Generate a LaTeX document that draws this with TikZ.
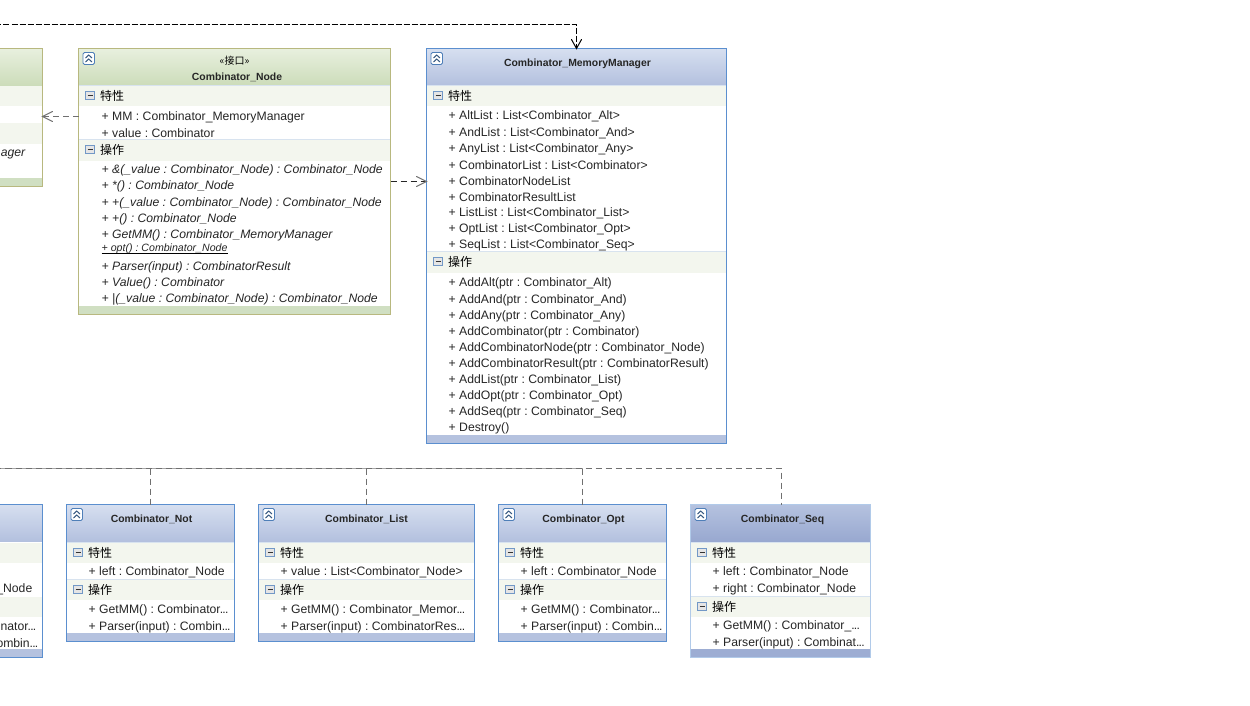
\documentclass[tikz,border=0pt]{standalone}
\usepackage{fontspec}
\usetikzlibrary{calc}
\setmainfont{Liberation Sans}
\newfontfamily\cjkf{Noto Sans CJK SC}
\definecolor{gborder}{HTML}{B8B87F}
\definecolor{gtop}{HTML}{E8F0DF}
\definecolor{gbot}{HTML}{CCDCB9}
\definecolor{gfoot}{HTML}{D0DFC2}
\definecolor{bborder}{HTML}{5B8FCF}
\definecolor{btop}{HTML}{D6DFF0}
\definecolor{bbot}{HTML}{B3C0DE}
\definecolor{bfoot}{HTML}{B5C2DF}
\definecolor{sborder}{HTML}{8FB3DF}
\definecolor{stop}{HTML}{B5C2DF}
\definecolor{sbot}{HTML}{98A8D0}
\definecolor{sfoot}{HTML}{9DADD3}
\definecolor{band}{HTML}{F3F6EE}
\definecolor{iconb}{HTML}{4F7FB8}
\definecolor{dashgray}{HTML}{707070}
\newcount\rowno
\newcommand{\dd}{.\kern-.8pt.\kern-.8pt.}
\tikzset{
  boxbody/.style={rectangle,draw,line width=1pt,fill=white,inner sep=0pt,outer sep=0pt,anchor=north west},
  rowtext/.style={anchor=west,inner sep=0pt,font=\frenchspacing\fontsize{12.2}{14}\selectfont,text=black!85},
  bandtext/.style={anchor=west,inner sep=0pt,font=\cjkf\fontsize{12}{14}\selectfont},
  titletext/.style={inner sep=0pt,font=\bfseries\fontsize{10.4}{12}\selectfont,text=black!85},
  dep/.style={dash pattern=on 6pt off 4pt,line width=1pt,color=dashgray},
  depdark/.style={dash pattern=on 6pt off 2pt,line width=1pt,color=black},
  openarr/.style={line width=1pt,line cap=round},
}
% #1 name, #2 x, #3 y, #4 x2, #5 y2, #6 border, #7 head top, #8 head bot, #9 foot
\newcommand{\umlbox}[9]{%
  \node[boxbody,draw=#6,minimum width=#4pt-#2pt,minimum height=#5pt-#3pt] (#1) at (#2,#3) {};
  \shade[top color=#7,bottom color=#8] (#2,#3) rectangle (#4,#3+37);
  \fill[#9] (#2,#5-9) rectangle (#4,#5);
  \draw[#6,line width=1pt] (#2,#3) rectangle (#4,#5);
  \draw[iconb,fill=white,rounded corners=1.5pt,line width=.8pt] (#2+4.5,#3+4) rectangle (#2+16,#3+16);
  \draw[iconb!70!black,line width=1pt] (#2+7,#3+9.5) -- (#2+10.2,#3+6.5) -- (#2+13.5,#3+9.5) (#2+7,#3+13.5) -- (#2+10.2,#3+10.5) -- (#2+13.5,#3+13.5);
}
% #1 x1, #2 x2, #3 y top, #4 y bottom, #5 label
\newcommand{\sect}[5]{%
  \fill[band] (#1+.5,#3) rectangle (#2-.5,#4);
  \draw[iconb!22,line width=.6pt] (#1+.5,#3) -- (#2-.5,#3);
  \draw[iconb!80,fill=black!10,line width=.7pt] (#1+7,#3+5.5) rectangle (#1+16,#3+14);
  \draw[black!80,line width=1pt] (#1+9,#3+9.8) -- (#1+14,#3+9.8);
  \global\advance\rowno 1
  \node[bandtext] (row\the\rowno) at (#1+21.5,#3+10.5) {#5};
}
\newcommand{\row}[3]{%
  \global\advance\rowno 1
  \node[rowtext] (row\the\rowno) at (#1,#2+.7) {#3};
}
\begin{document}
\begin{tikzpicture}[x=1pt,y=-1pt]
\useasboundingbox (-.5,-.5) rectangle (1249.5,704.5);
\clip (-.5,-.5) rectangle (1249.5,704.5);
\fill[white] (-.5,-.5) rectangle (1249.5,704.5);

% cropped boxes on the left
\umlbox{leftTop}{-100}{48}{42}{186}{gborder}{gtop}{gbot}{gfoot}
\fill[band] (-99,85) rectangle (41.5,105);
\fill[band] (-99,122) rectangle (41.5,143);
\global\advance\rowno 1
\node[rowtext,anchor=east,font=\frenchspacing\itshape\fontsize{12.2}{14}\selectfont] (row\the\rowno) at (25,153.7) {ager};

\umlbox{leftBot}{-100}{504}{42}{657}{bborder}{btop}{bbot}{bfoot}
\fill[band] (-99,542) rectangle (41.5,562);
\fill[band] (-99,596) rectangle (41.5,616);
\global\advance\rowno 1
\node[rowtext,anchor=east] (row\the\rowno) at (32,588.7) {\_Node};
\global\advance\rowno 1
\node[rowtext,anchor=east] (row\the\rowno) at (36,625.7) {inator\dd};
\global\advance\rowno 1
\node[rowtext,anchor=east] (row\the\rowno) at (38,642.7) {ombin\dd};

% Combinator_Node
\umlbox{cnode}{78}{48}{390}{314}{gborder}{gtop}{gbot}{gfoot}
\global\advance\rowno 1
\node[inner sep=0pt,font=\cjkf\fontsize{10}{12}\selectfont] (row\the\rowno) at (234,60) {«接口»};
\node[titletext] (cnodeT) at (236.5,77) {Combinator\_Node};
\sect{78}{390}{85}{105}{特性}
\row{101}{116}{+ MM : Combinator\_MemoryManager}
\row{101}{132}{+ value : Combinator}
\sect{78}{390}{139}{160}{操作}
\begin{scope}[rowtext/.append style={font=\frenchspacing\itshape\fontsize{12.2}{14}\selectfont}]
\row{101}{169}{+ \&(\_value : Combinator\_Node) : Combinator\_Node}
\row{101}{185}{+ *() : Combinator\_Node}
\row{101}{202}{+ +(\_value : Combinator\_Node) : Combinator\_Node}
\row{101}{218}{+ +() : Combinator\_Node}
\row{101}{234}{+ GetMM() : Combinator\_MemoryManager}
\global\advance\rowno 1
\node[rowtext,font=\frenchspacing\itshape\fontsize{10.6}{12}\selectfont] (row\the\rowno) at (101,248) {+ opt() : Combinator\_Node};
\draw[black,line width=.8pt] (row\the\rowno.south west) -- (row\the\rowno.south east);
\row{101}{266}{+ Parser(input) : CombinatorResult}
\row{101}{282}{+ Value() : Combinator}
\row{101}{298}{+ |(\_value : Combinator\_Node) : Combinator\_Node}
\end{scope}

% Combinator_MemoryManager
\umlbox{cmm}{426}{48}{726}{443}{bborder}{btop}{bbot}{bfoot}
\node[titletext] (cmmT) at (577,63) {Combinator\_MemoryManager};
\sect{426}{726}{85}{105}{特性}
\row{448}{115}{+ AltList : List<Combinator\_Alt>}
\row{448}{132}{+ AndList : List<Combinator\_And>}
\row{448}{148}{+ AnyList : List<Combinator\_Any>}
\row{448}{164}{+ CombinatorList : List<Combinator>}
\row{448}{180}{+ CombinatorNodeList}
\row{448}{196}{+ CombinatorResultList}
\row{448}{212}{+ ListList : List<Combinator\_List>}
\row{448}{228}{+ OptList : List<Combinator\_Opt>}
\row{448}{244}{+ SeqList : List<Combinator\_Seq>}
\sect{426}{726}{251}{272}{操作}
\row{448}{282}{+ AddAlt(ptr : Combinator\_Alt)}
\row{448}{299}{+ AddAnd(ptr : Combinator\_And)}
\row{448}{315}{+ AddAny(ptr : Combinator\_Any)}
\row{448}{331}{+ AddCombinator(ptr : Combinator)}
\row{448}{347}{+ AddCombinatorNode(ptr : Combinator\_Node)}
\row{448}{363}{+ AddCombinatorResult(ptr : CombinatorResult)}
\row{448}{379}{+ AddList(ptr : Combinator\_List)}
\row{448}{395}{+ AddOpt(ptr : Combinator\_Opt)}
\row{448}{411}{+ AddSeq(ptr : Combinator\_Seq)}
\row{448}{427}{+ Destroy()}

% Combinator_Not
\umlbox{cnot}{66}{504}{234}{641}{bborder}{btop}{bbot}{bfoot}
\node[titletext] (cnotT) at (151,519) {Combinator\_Not};
\sect{66}{234}{542}{562}{特性}
\row{88}{571}{+ left : Combinator\_Node}
\sect{66}{234}{579}{599}{操作}
\row{88}{609}{+ GetMM() : Combinator\dd}
\row{88}{626}{+ Parser(input) : Combin\dd}

% Combinator_List
\umlbox{clist}{258}{504}{474}{641}{bborder}{btop}{bbot}{bfoot}
\node[titletext] (clistT) at (366,519) {Combinator\_List};
\sect{258}{474}{542}{562}{特性}
\row{280}{571}{+ value : List<Combinator\_Node>}
\sect{258}{474}{579}{599}{操作}
\row{280}{609}{+ GetMM() : Combinator\_Memor\dd}
\row{280}{626}{+ Parser(input) : CombinatorRes\dd}

% Combinator_Opt
\umlbox{copt}{498}{504}{666}{641}{bborder}{btop}{bbot}{bfoot}
\node[titletext] (coptT) at (583,519) {Combinator\_Opt};
\sect{498}{666}{542}{562}{特性}
\row{520}{571}{+ left : Combinator\_Node}
\sect{498}{666}{579}{599}{操作}
\row{520}{609}{+ GetMM() : Combinator\dd}
\row{520}{626}{+ Parser(input) : Combin\dd}

% Combinator_Seq
\umlbox{cseq}{690}{504}{870}{657}{sborder}{stop}{sbot}{sfoot}
\draw[sborder!70,line width=1.6pt] (cseq.north west) rectangle (cseq.south east);
\node[titletext] (cseqT) at (782,519) {Combinator\_Seq};
\sect{690}{870}{542}{562}{特性}
\row{712}{571}{+ left : Combinator\_Node}
\row{712}{588}{+ right : Combinator\_Node}
\sect{690}{870}{596}{616}{操作}
\row{712}{625}{+ GetMM() : Combinator\_\dd}
\row{712}{642}{+ Parser(input) : Combinat\dd}

% connectors
\coordinate (topL) at (-5,24);
\coordinate (topC) at (cmm.north |- topL);
\coordinate (botL) at (-5,468);
\coordinate (botO) at (copt.north |- botL);
\coordinate (botI) at (clist.north |- botL);
\coordinate (botN) at (cnot.north |- botL);
\coordinate (seqTop) at (781,504);
\coordinate (seqBus) at (781,468);

\draw[depdark] (topL) -- (topC) -- (cmm.north);
\draw[openarr] ($(cmm.north)+(-5,-9)$) -- (cmm.north) -- ($(cmm.north)+(5,-9)$);

\draw[black!35,line width=1pt] (botL) -- (botO);
\draw[dep] (botL) -- (seqBus) -- (seqTop);
\draw[dep] (botN) -- (cnot.north);
\draw[dep] (botI) -- (clist.north);
\draw[dep] (botO) -- (copt.north);

\coordinate (nA) at (cnode.west |- 0,116);
\coordinate (lA) at (leftTop.east |- 0,116);
\draw[dep] (nA) -- (lA);
\draw[openarr,dashgray] ($(lA)+(10,-5)$) -- (lA) -- ($(lA)+(10,5)$);
\coordinate (nB) at (cnode.east |- 0,181);
\coordinate (mB) at (cmm.west |- 0,181);
\draw[dep,color=black!85] (nB) -- (mB);
\draw[openarr,dashgray] ($(mB)+(-10,-5)$) -- (mB) -- ($(mB)+(-10,5)$);
\end{tikzpicture}
\end{document}
